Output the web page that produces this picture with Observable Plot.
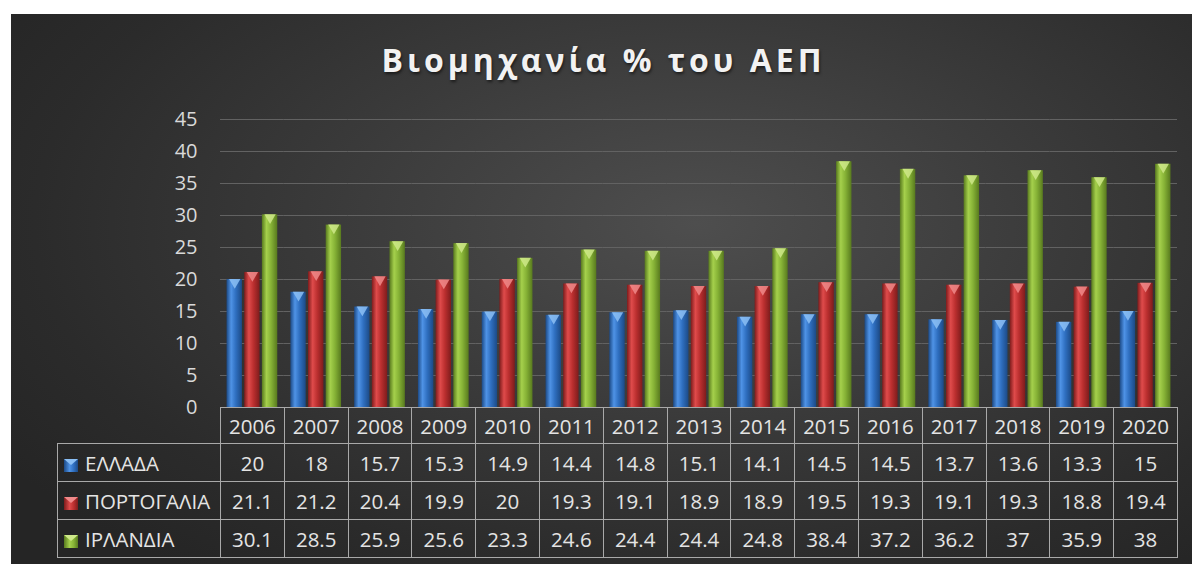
<!DOCTYPE html>
<html>
<head>
<meta charset="utf-8">
<script src="https://cdn.jsdelivr.net/npm/d3@7"></script>
<script src="https://cdn.jsdelivr.net/npm/@observablehq/plot@0.6"></script>
<style>
  html, body { margin: 0; padding: 0; background: #ffffff; width: 1192px; height: 564px; overflow: hidden; }
  #bg { position: absolute; left: 11px; top: 14px; width: 1181px; height: 550px;
        background: radial-gradient(ellipse 70% 80% at 58% 38%, #4e4e4e 0%, #3a3a3a 45%, #2b2b2b 80%, #252525 100%); }
  #title { position: absolute; left: 13px; width: 1181px; top: 44px; text-align: center;
           font-family: "Open Sans", sans-serif; font-weight: 700; font-size: 32px; line-height: 32px;
           letter-spacing: 4px; color: #f2f2f2; text-shadow: 1px 2px 3px rgba(0,0,0,0.55); }
  #chart { position: absolute; left: 0; top: 0; }
  #table { position: absolute; border-collapse: collapse; table-layout: fixed;
           font-family: "Open Sans", sans-serif; font-size: 20.5px; color: #e4e4e4; }
  #table td { border: 1.5px solid #a9a9a9; text-align: center; padding: 0; white-space: nowrap; overflow: hidden; }
  #table td.lab { text-align: left; padding-left: 6px; }
  #table td.blank { border: none; }
  .mk { display: inline-block; width: 14px; height: 13px; margin-right: 7px; vertical-align: -1px; position: relative; }
  .mk i { position: absolute; left: 0; top: 0; width: 0; height: 0; border-left: 7px solid transparent; border-right: 7px solid transparent; }
</style>
</head>
<body>
<div id="bg"></div>
<div id="title">Βιομηχανία % του ΑΕΠ</div>
<div id="chart"></div>
<script>
const years = ["2006","2007","2008","2009","2010","2011","2012","2013","2014","2015","2016","2017","2018","2019","2020"];
const series = ["ΕΛΛΑΔΑ","ΠΟΡΤΟΓΑΛΙΑ","ΙΡΛΑΝΔΙΑ"];
const greece   = [20, 18, 15.7, 15.3, 14.9, 14.4, 14.8, 15.1, 14.1, 14.5, 14.5, 13.7, 13.6, 13.3, 15];
const portugal = [21.1, 21.2, 20.4, 19.9, 20, 19.3, 19.1, 18.9, 18.9, 19.5, 19.3, 19.1, 19.3, 18.8, 19.4];
const ireland  = [30.1, 28.5, 25.9, 25.6, 23.3, 24.6, 24.4, 24.4, 24.8, 38.4, 37.2, 36.2, 37, 35.9, 38];
const yTicks = [0, 5, 10, 15, 20, 25, 30, 35, 40, 45];

// colors: [edge, mid, highlight, cap]
const palette = [
  ["#1c4a86", "#2f6fc0", "#4f93e6", "#8cc0f5"],
  ["#7e1c1c", "#bb2f2f", "#df4b4b", "#f08a8a"],
  ["#587a1e", "#86b236", "#a5d04c", "#cfe98a"]
];

const valuesBySeries = [greece, portugal, ireland];
const data = [];
series.forEach((s, i) => years.forEach((y, j) => data.push({year: y, series: s, value: valuesBySeries[i][j], si: i})));

const marks = [
  Plot.gridY(yTicks, {stroke: "#626262", strokeOpacity: 1, strokeWidth: 1}),
  Plot.axisY(yTicks, {tickSize: 0, tickPadding: 23, fontSize: 20, fill: "#d9d9d9", label: null,
                      fontFamily: "Open Sans, sans-serif"})
];
series.forEach((s, i) => {
  const d = data.filter(e => e.si === i);
  marks.push(Plot.barY(d, {fx: "year", x: "series", y: "value", fill: `url(#bar${i})`}));
  marks.push(Plot.dot(d, {fx: "year", x: "series", y: "value", symbol: "triangle2", rotate: 180, r: 5.4, dy: 2.7,
                          fill: palette[i][3], fillOpacity: 0.85, stroke: "none"}));
});

const chart = Plot.plot({
  width: 1192,
  height: 430,
  marginLeft: 220,
  marginRight: 15,
  marginTop: 119,
  marginBottom: 23,
  style: {background: "transparent", overflow: "visible"},
  fx: {domain: years, padding: 0, round: false, axis: null, label: null},
  x: {domain: series, paddingInner: 0.13, paddingOuter: 0.37, round: false, axis: null},
  y: {domain: [0, 45], axis: null},
  marks
});

const svg = d3.select(chart);
const defs = svg.insert("defs", ":first-child");
palette.forEach((p, i) => {
  const g = defs.append("linearGradient").attr("id", `bar${i}`).attr("x1", 0).attr("x2", 1).attr("y1", 0).attr("y2", 0);
  g.append("stop").attr("offset", "0%").attr("stop-color", p[0]);
  g.append("stop").attr("offset", "30%").attr("stop-color", p[2]);
  g.append("stop").attr("offset", "60%").attr("stop-color", p[1]);
  g.append("stop").attr("offset", "100%").attr("stop-color", p[0]);
});
document.getElementById("chart").appendChild(chart);

// data table below the plot, aligned with the fx scale
const fx = chart.scale("fx");
const step = fx.step || fx.bandwidth;
const left0 = fx.apply(years[0]);
const legendLeft = 57;
const table = document.createElement("table");
table.id = "table";
table.style.left = legendLeft + "px";
table.style.top = "407px";
table.style.width = (left0 - legendLeft + step * years.length) + "px";
const cg = document.createElement("colgroup");
const c0 = document.createElement("col"); c0.style.width = (left0 - legendLeft) + "px"; cg.appendChild(c0);
years.forEach(() => { const c = document.createElement("col"); c.style.width = step + "px"; cg.appendChild(c); });
table.appendChild(cg);

const hr = document.createElement("tr");
hr.style.height = "36px";
const blank = document.createElement("td"); blank.className = "blank"; hr.appendChild(blank);
years.forEach(y => { const td = document.createElement("td"); td.textContent = y; hr.appendChild(td); });
table.appendChild(hr);

series.forEach((s, i) => {
  const tr = document.createElement("tr");
  tr.style.height = "38px";
  const lab = document.createElement("td"); lab.className = "lab";
  const p = palette[i];
  lab.innerHTML = `<span class="mk" style="background: linear-gradient(to right, ${p[0]}, ${p[2]} 40%, ${p[1]} 70%, ${p[0]})"><i style="border-top: 6px solid ${p[3]}"></i></span>${s}`;
  tr.appendChild(lab);
  valuesBySeries[i].forEach(v => { const td = document.createElement("td"); td.textContent = String(v); tr.appendChild(td); });
  table.appendChild(tr);
});
document.body.appendChild(table);
</script>
</body>
</html>
